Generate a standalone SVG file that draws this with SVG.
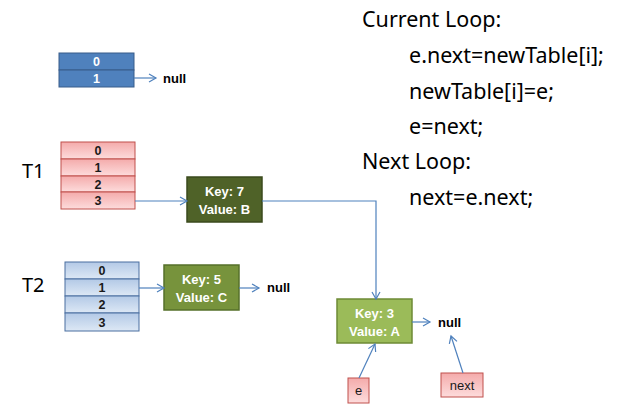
<svg xmlns="http://www.w3.org/2000/svg" width="627" height="415" viewBox="0 0 627 415">
<defs>
<linearGradient id="gPink" x1="0" y1="0" x2="0" y2="1">
<stop offset="0" stop-color="#F4ABAB"/><stop offset="1" stop-color="#FDDCDC"/>
</linearGradient>
<linearGradient id="gBlue" x1="0" y1="0" x2="0" y2="1">
<stop offset="0" stop-color="#B3C9E6"/><stop offset="1" stop-color="#DDE8F5"/>
</linearGradient>
<marker id="arr" markerWidth="10" markerHeight="10" refX="8" refY="5" orient="auto" markerUnits="userSpaceOnUse">
<path d="M1,1 L8,5 L1,9" fill="none" stroke="#4F81BD" stroke-width="1.2"/>
</marker>
<style>
.blue{fill:#4F81BD;stroke:#385D8A;stroke-width:1}
.pink{fill:url(#gPink);stroke:#C0504D;stroke-width:1}
.lblue{fill:url(#gBlue);stroke:#4A6FA0;stroke-width:1}
.num{font-family:"Liberation Sans",Arial,sans-serif;font-weight:bold;font-size:12.5px;text-anchor:middle;fill:#1a1a1a}
.numw{font-family:"Liberation Sans",Arial,sans-serif;font-weight:bold;font-size:12.5px;text-anchor:middle;fill:#ffffff}
.kv{font-family:"Liberation Sans",Arial,sans-serif;font-weight:bold;font-size:13px;text-anchor:middle;fill:#ffffff}
.null{font-family:"Liberation Sans",Arial,sans-serif;font-weight:bold;font-size:13px;fill:#000000}
.tl{font-family:"Noto Sans","Liberation Sans",sans-serif;font-size:20px;fill:#000000}
.code{font-family:"Noto Sans","Liberation Sans",sans-serif;font-size:21.5px;fill:#000000}
.ptr{font-family:"Liberation Sans",Arial,sans-serif;font-size:13px;text-anchor:middle;fill:#1a1a1a}
.con{fill:none;stroke:#4F81BD;stroke-width:1.2;marker-end:url(#arr)}
</style>
</defs>

<g id="table-top">
<rect class="blue" x="59" y="53" width="75" height="17"/>
<rect class="blue" x="59" y="70" width="75" height="17"/>
<text class="numw" x="96.5" y="66">0</text>
<text class="numw" x="96.5" y="83">1</text>
</g>
<text class="null" x="163" y="83">null</text>

<g id="T1">
<text class="tl" x="22" y="178">T1</text>
<rect class="pink" x="61" y="142" width="74" height="17"/>
<rect class="pink" x="61" y="159" width="74" height="17"/>
<rect class="pink" x="61" y="176" width="74" height="16"/>
<rect class="pink" x="61" y="192" width="74" height="17"/>
<text class="num" x="98" y="155">0</text>
<text class="num" x="98" y="172">1</text>
<text class="num" x="98" y="188.5">2</text>
<text class="num" x="98" y="205">3</text>
</g>

<g id="T2">
<text class="tl" x="22" y="292">T2</text>
<rect class="lblue" x="65" y="262" width="74" height="17"/>
<rect class="lblue" x="65" y="279" width="74" height="17"/>
<rect class="lblue" x="65" y="296" width="74" height="17"/>
<rect class="lblue" x="65" y="313" width="74" height="18"/>
<text class="num" x="102" y="275">0</text>
<text class="num" x="102" y="292">1</text>
<text class="num" x="102" y="309">2</text>
<text class="num" x="102" y="326.5">3</text>
</g>

<g id="key7">
<rect x="187" y="177" width="75" height="45" fill="#4F6228" stroke="#3A4A1C" stroke-width="1.5"/>
<text class="kv" x="224.5" y="196">Key: 7</text>
<text class="kv" x="224.5" y="214">Value: B</text>
</g>

<g id="key5">
<rect x="164" y="265" width="75" height="45" fill="#77933C" stroke="#56702A" stroke-width="1.5"/>
<text class="kv" x="201.5" y="284">Key: 5</text>
<text class="kv" x="201.5" y="302">Value: C</text>
</g>
<text class="null" x="267" y="292">null</text>

<g id="key3">
<rect x="337" y="299" width="75" height="44" fill="#9BBB59" stroke="#6E8A36" stroke-width="1.5"/>
<text class="kv" x="374.5" y="318">Key: 3</text>
<text class="kv" x="374.5" y="336">Value: A</text>
</g>
<text class="null" x="438" y="327">null</text>

<g id="e">
<rect x="348" y="378" width="21" height="25" fill="url(#gPink)" stroke="#C0504D" stroke-width="1"/>
<text class="ptr" x="358.5" y="395">e</text>
</g>

<g id="next">
<rect x="441" y="373" width="42" height="24" fill="url(#gPink)" stroke="#C0504D" stroke-width="1"/>
<text class="ptr" x="462" y="390">next</text>
</g>

<g id="code">
<text class="code" x="362" y="27">Current Loop:</text>
<text class="code" x="409" y="63">e.next=newTable[i];</text>
<text class="code" x="409" y="99">newTable[i]=e;</text>
<text class="code" x="409" y="134">e=next;</text>
<text class="code" x="362" y="169">Next Loop:</text>
<text class="code" x="409" y="205">next=e.next;</text>
</g>

<g id="connectors">
<line class="con" x1="134" y1="78" x2="156" y2="78"/>
<line class="con" x1="135" y1="201" x2="187" y2="201"/>
<polyline class="con" points="262,201 376,201 376,299"/>
<line class="con" x1="139" y1="288" x2="164" y2="288"/>
<line class="con" x1="239" y1="288" x2="259" y2="288"/>
<line class="con" x1="412" y1="322" x2="430" y2="322"/>
<line class="con" x1="359" y1="378" x2="375" y2="344"/>
<line class="con" x1="463" y1="373" x2="451" y2="336"/>
</g>
</svg>
